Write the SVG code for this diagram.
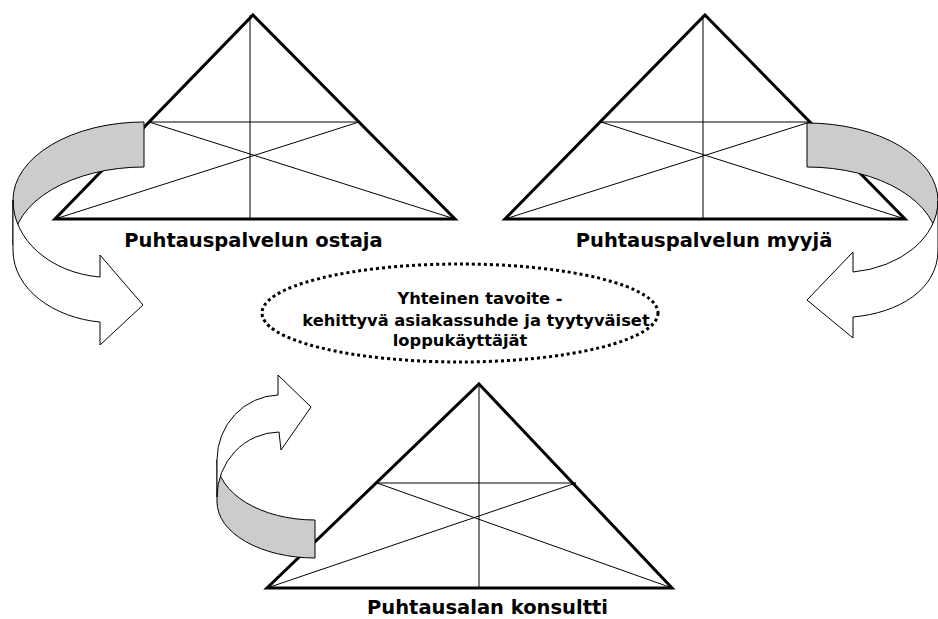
<svg xmlns="http://www.w3.org/2000/svg" width="938" height="619" viewBox="0 0 938 619">
<style>
.tri{fill:none;stroke:#000;stroke-width:3;stroke-linejoin:miter}
.in{fill:none;stroke:#000;stroke-width:1}
.lbl{font-family:"DejaVu Sans","Liberation Sans",sans-serif;font-weight:bold;font-size:19.5px;fill:#000;text-anchor:middle}
.goal{font-family:"DejaVu Sans","Liberation Sans",sans-serif;font-weight:bold;font-size:16.3px;fill:#000;text-anchor:middle}
.back{fill:#cccccc;stroke:#000;stroke-width:1;stroke-linejoin:miter}
.front{fill:#fff;stroke:#000;stroke-width:1;stroke-linejoin:miter}
</style>
<rect width="938" height="619" fill="#fff"/>
<g id="ostaja">
<line class="in" x1="250" y1="15" x2="250" y2="219"/>
<line class="in" x1="149" y1="122" x2="359" y2="122"/>
<line class="in" x1="149" y1="122" x2="455" y2="219"/>
<line class="in" x1="359" y1="122" x2="55" y2="219"/>
<polygon class="tri" points="253,15 455,219 55,219"/>
<text class="lbl" x="253.5" y="247">Puhtauspalvelun ostaja</text>
</g>
<g id="myyja">
<line class="in" x1="703" y1="15" x2="703" y2="219"/>
<line class="in" x1="601" y1="122" x2="810" y2="122"/>
<line class="in" x1="601" y1="122" x2="905" y2="219"/>
<line class="in" x1="810" y1="122" x2="505" y2="219"/>
<polygon class="tri" points="705,15 905,219 505,219"/>
<text class="lbl" x="704" y="247">Puhtauspalvelun myyjä</text>
</g>
<g id="konsultti">
<line class="in" x1="479" y1="384" x2="479" y2="588"/>
<line class="in" x1="377" y1="483" x2="576" y2="483"/>
<line class="in" x1="377" y1="483" x2="672" y2="588"/>
<line class="in" x1="576" y1="483" x2="267" y2="588"/>
<polygon class="tri" points="479,384 672,588 267,588"/>
<text class="lbl" x="487.5" y="614">Puhtausalan konsultti</text>
</g>
<g id="tavoite">
<ellipse cx="460" cy="313" rx="198" ry="49" fill="none" stroke="#000" stroke-width="3" stroke-dasharray="3 3"/>
<text class="goal" x="480" y="304">Yhteinen tavoite -</text>
<text class="goal" x="476" y="326">kehittyvä asiakassuhde ja tyytyväiset</text>
<text class="goal" x="460" y="346">loppukäyttäjät</text>
</g>
<g id="connectors">
<g id="arrow-left">
<path class="back" d="M144,122 A131,78 0 0 0 13,200 L13,245 A131,78 0 0 1 144,167 Z"/>
<path class="front" d="M13,200 A97,77 0 0 0 100,277 L100,255 L143,305 L100,345 L100,322 C55,318 13,290 13,250 Z"/>
</g>
<g id="arrow-right">
<path class="back" d="M807,123 A131,78 0 0 1 938,201 L938,246 A131,78 0 0 0 807,167 Z"/>
<path class="front" d="M938,201 A97,72 0 0 1 853,272 L853,252 L807,300 L853,338 L853,317 C898,313 938,290 938,250 Z"/>
</g>
<g id="arrow-bottom">
<path class="back" d="M315,520 A98,60 0 0 1 217,460 L217,502 A98,56 0 0 0 315,558 Z"/>
<path class="front" d="M217,460 A63,65 0 0 1 278,395 L278,375 L311,407 L281,450 L279,432 A63,65 0 0 0 217,497 Z"/>
</g>
</g>
</svg>
